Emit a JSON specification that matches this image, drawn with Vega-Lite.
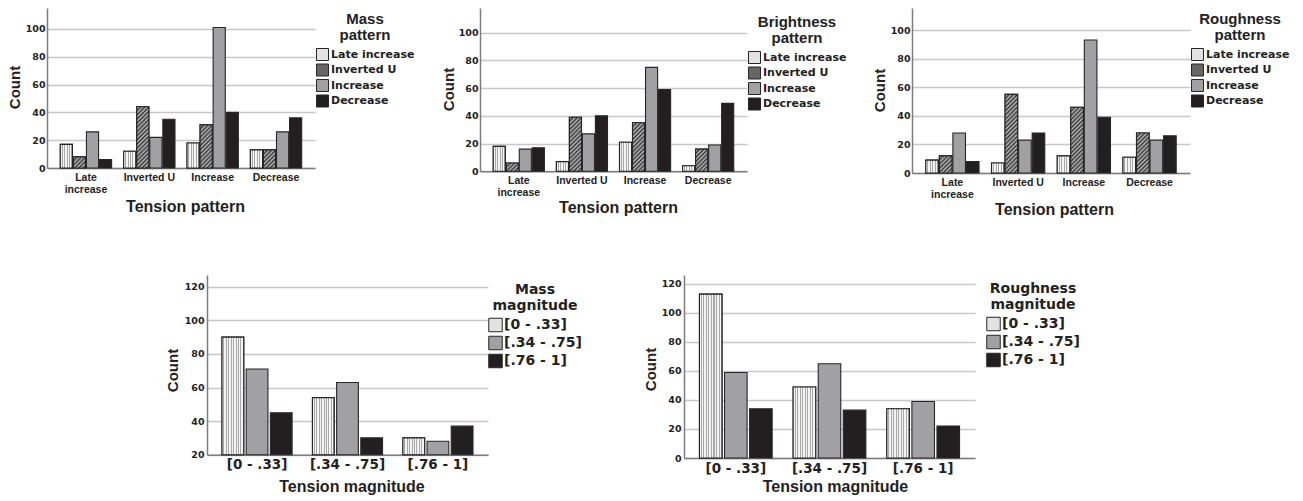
{
  "$schema": "https://vega.github.io/schema/vega-lite/v6.json",
  "background": "white",
  "padding": {"left": 7, "top": 8, "right": 0, "bottom": 0},
  "params": [
    {"name": "hs", "expr": "[{offset:0,color:'#333'},{offset:0.0208,color:'#bbb'},{offset:0.0417,color:'#333'},{offset:0.0625,color:'#bbb'},{offset:0.0833,color:'#333'},{offset:0.1042,color:'#bbb'},{offset:0.125,color:'#333'},{offset:0.1458,color:'#bbb'},{offset:0.1667,color:'#333'},{offset:0.1875,color:'#bbb'},{offset:0.2083,color:'#333'},{offset:0.2292,color:'#bbb'},{offset:0.25,color:'#333'},{offset:0.2708,color:'#bbb'},{offset:0.2917,color:'#333'},{offset:0.3125,color:'#bbb'},{offset:0.3333,color:'#333'},{offset:0.3542,color:'#bbb'},{offset:0.375,color:'#333'},{offset:0.3958,color:'#bbb'},{offset:0.4167,color:'#333'},{offset:0.4375,color:'#bbb'},{offset:0.4583,color:'#333'},{offset:0.4792,color:'#bbb'},{offset:0.5,color:'#333'},{offset:0.5208,color:'#bbb'},{offset:0.5417,color:'#333'},{offset:0.5625,color:'#bbb'},{offset:0.5833,color:'#333'},{offset:0.6042,color:'#bbb'},{offset:0.625,color:'#333'},{offset:0.6458,color:'#bbb'},{offset:0.6667,color:'#333'},{offset:0.6875,color:'#bbb'},{offset:0.7083,color:'#333'},{offset:0.7292,color:'#bbb'},{offset:0.75,color:'#333'},{offset:0.7708,color:'#bbb'},{offset:0.7917,color:'#333'},{offset:0.8125,color:'#bbb'},{offset:0.8333,color:'#333'},{offset:0.8542,color:'#bbb'},{offset:0.875,color:'#333'},{offset:0.8958,color:'#bbb'},{offset:0.9167,color:'#333'},{offset:0.9375,color:'#bbb'},{offset:0.9583,color:'#333'},{offset:0.9792,color:'#bbb'},{offset:1,color:'#333'}]"},
    {"name": "lsl", "expr": "[{offset:0,color:'#f4f4f4'},{offset:0.12,color:'#f4f4f4'},{offset:0.12,color:'#a8a8a8'},{offset:0.2,color:'#a8a8a8'},{offset:0.2,color:'#f4f4f4'},{offset:0.32,color:'#f4f4f4'},{offset:0.32,color:'#a8a8a8'},{offset:0.4,color:'#a8a8a8'},{offset:0.4,color:'#f4f4f4'},{offset:0.52,color:'#f4f4f4'},{offset:0.52,color:'#a8a8a8'},{offset:0.6,color:'#a8a8a8'},{offset:0.6,color:'#f4f4f4'},{offset:0.72,color:'#f4f4f4'},{offset:0.72,color:'#a8a8a8'},{offset:0.8,color:'#a8a8a8'},{offset:0.8,color:'#f4f4f4'},{offset:0.92,color:'#f4f4f4'},{offset:0.92,color:'#a8a8a8'},{offset:1,color:'#a8a8a8'}]"},
    {"name": "ls9", "expr": "[{offset:0,color:'#f4f4f4'},{offset:0.0667,color:'#f4f4f4'},{offset:0.0667,color:'#a8a8a8'},{offset:0.1111,color:'#a8a8a8'},{offset:0.1111,color:'#f4f4f4'},{offset:0.1778,color:'#f4f4f4'},{offset:0.1778,color:'#a8a8a8'},{offset:0.2222,color:'#a8a8a8'},{offset:0.2222,color:'#f4f4f4'},{offset:0.2889,color:'#f4f4f4'},{offset:0.2889,color:'#a8a8a8'},{offset:0.3333,color:'#a8a8a8'},{offset:0.3333,color:'#f4f4f4'},{offset:0.4,color:'#f4f4f4'},{offset:0.4,color:'#a8a8a8'},{offset:0.4444,color:'#a8a8a8'},{offset:0.4444,color:'#f4f4f4'},{offset:0.5111,color:'#f4f4f4'},{offset:0.5111,color:'#a8a8a8'},{offset:0.5556,color:'#a8a8a8'},{offset:0.5556,color:'#f4f4f4'},{offset:0.6222,color:'#f4f4f4'},{offset:0.6222,color:'#a8a8a8'},{offset:0.6667,color:'#a8a8a8'},{offset:0.6667,color:'#f4f4f4'},{offset:0.7333,color:'#f4f4f4'},{offset:0.7333,color:'#a8a8a8'},{offset:0.7778,color:'#a8a8a8'},{offset:0.7778,color:'#f4f4f4'},{offset:0.8444,color:'#f4f4f4'},{offset:0.8444,color:'#a8a8a8'},{offset:0.8889,color:'#a8a8a8'},{offset:0.8889,color:'#f4f4f4'},{offset:0.9556,color:'#f4f4f4'},{offset:0.9556,color:'#a8a8a8'},{offset:1,color:'#a8a8a8'}]"}
  ],
  "config": {
    "view": {"stroke": null},
    "axis": {"labelFont": "DejaVu Sans", "labelFontWeight": "bold", "labelColor": "#222", "titleFont": "Liberation Sans", "titleFontWeight": "bold", "titleColor": "#222", "domainColor": "#7d7d7d", "domainWidth": 1.5, "ticks": false, "gridColor": "#c8c8c8", "gridWidth": 1.5, "labelPadding": 2},
    "axisX": {"grid": false, "labelAngle": 0, "labelFont": "Liberation Sans", "labelFontSize": 10.5, "labelPadding": 4, "labelLineHeight": 12, "titleFontSize": 16, "titleBaseline": "alphabetic"},
    "axisY": {"grid": true, "labelFontSize": 9.5, "titleFontSize": 15, "titleBaseline": "alphabetic", "titleAngle": 270},
    "legend": {"titleFont": "Liberation Sans", "titleFontWeight": "bold", "titleFontSize": 15, "titleColor": "#222", "titleAlign": "center", "titleAnchor": "middle", "titleLineHeight": 16, "titlePadding": 5, "labelFont": "DejaVu Sans", "labelFontWeight": "bold", "labelFontSize": 11, "labelColor": "#222", "labelOffset": 2, "symbolType": "square", "symbolSize": 144, "symbolStrokeColor": "#262626", "symbolStrokeWidth": 1, "rowPadding": -1.5, "padding": 0, "labelLimit": 300}
  },
  "spacing": 267,
  "bounds": "flush",
  "resolve": {"scale": {"color": "independent", "xOffset": "independent", "x": "independent", "y": "independent", "fill": "independent"}, "legend": {"color": "independent"}},
  "vconcat": [
    {
      "spacing": 165,
      "bounds": "flush",
      "resolve": {"scale": {"color": "independent", "xOffset": "independent", "x": "independent", "y": "independent", "fill": "independent"}, "legend": {"color": "independent"}},
      "hconcat": [
        {
          "width": 268, "height": 160,
          "data": {"values": [
            {"tension": "Late increase", "series": "Late increase", "count": 17},
            {"tension": "Late increase", "series": "Inverted U", "count": 8},
            {"tension": "Late increase", "series": "Increase", "count": 26},
            {"tension": "Late increase", "series": "Decrease", "count": 6},
            {"tension": "Inverted U", "series": "Late increase", "count": 12},
            {"tension": "Inverted U", "series": "Inverted U", "count": 44},
            {"tension": "Inverted U", "series": "Increase", "count": 22},
            {"tension": "Inverted U", "series": "Decrease", "count": 35},
            {"tension": "Increase", "series": "Late increase", "count": 18},
            {"tension": "Increase", "series": "Inverted U", "count": 31},
            {"tension": "Increase", "series": "Increase", "count": 101},
            {"tension": "Increase", "series": "Decrease", "count": 40},
            {"tension": "Decrease", "series": "Late increase", "count": 13},
            {"tension": "Decrease", "series": "Inverted U", "count": 13},
            {"tension": "Decrease", "series": "Increase", "count": 26},
            {"tension": "Decrease", "series": "Decrease", "count": 36}
          ]},
          "encoding": {
            "x": {"field": "tension", "type": "nominal", "sort": ["Late increase", "Inverted U", "Increase", "Decrease"], "scale": {"paddingInner": 0.19, "paddingOuter": 0.21}, "axis": {"title": "Tension pattern", "labelExpr": "datum.value === 'Late increase' ? ['Late', 'increase'] : datum.value", "titleX": 138, "titleY": 43}},
            "xOffset": {"field": "series", "type": "nominal", "sort": ["Late increase", "Inverted U", "Increase", "Decrease"], "scale": {"paddingInner": 0.07, "paddingOuter": 0}},
            "y": {"field": "count", "type": "quantitative", "scale": {"domain": [0, 115], "nice": false}, "axis": {"title": "Count", "values": [0, 20, 40, 60, 80, 100], "titleX": -28, "titleY": 79}}
          },
          "layer": [
            {"mark": {"type": "bar", "stroke": "#262626", "strokeWidth": 1.1},
             "encoding": {"color": {"field": "series", "type": "nominal", "scale": {"domain": ["Late increase", "Inverted U", "Increase", "Decrease"], "range": ["#e2e2e2", "#666666", "#a1a1a3", "#231f20"]},
               "legend": {"title": ["Mass", "pattern"], "orient": "none", "legendX": 269, "legendY": 4}}}},
            {"transform": [{"filter": "datum.series === 'Late increase'"}],
             "mark": {"type": "bar", "stroke": "#262626", "strokeWidth": 1.1, "fill": {"expr": "{gradient:'linear',x1:0,y1:0,x2:1,y2:0,stops:lsl}"}}},
            {"transform": [{"filter": "datum.series === 'Inverted U'"}, {"calculate": "{gradient:'linear',x1:0,y1:0,x2:12.2*100/(148.84+pow(datum.count*1.3913,2)),y2:datum.count*1.3913*100/(148.84+pow(datum.count*1.3913,2)),stops:hs}", "as": "grad"}],
             "mark": {"type": "bar", "stroke": "#262626", "strokeWidth": 1.1},
             "encoding": {"fill": {"field": "grad", "type": "nominal", "scale": null}}}
          ]
        },
        {
          "width": 267, "height": 163.3,
          "data": {"values": [
            {"tension": "Late increase", "series": "Late increase", "count": 18},
            {"tension": "Late increase", "series": "Inverted U", "count": 6},
            {"tension": "Late increase", "series": "Increase", "count": 16},
            {"tension": "Late increase", "series": "Decrease", "count": 17},
            {"tension": "Inverted U", "series": "Late increase", "count": 7},
            {"tension": "Inverted U", "series": "Inverted U", "count": 39},
            {"tension": "Inverted U", "series": "Increase", "count": 27},
            {"tension": "Inverted U", "series": "Decrease", "count": 40},
            {"tension": "Increase", "series": "Late increase", "count": 21},
            {"tension": "Increase", "series": "Inverted U", "count": 35},
            {"tension": "Increase", "series": "Increase", "count": 75},
            {"tension": "Increase", "series": "Decrease", "count": 59},
            {"tension": "Decrease", "series": "Late increase", "count": 4},
            {"tension": "Decrease", "series": "Inverted U", "count": 16},
            {"tension": "Decrease", "series": "Increase", "count": 19},
            {"tension": "Decrease", "series": "Decrease", "count": 49}
          ]},
          "encoding": {
            "x": {"field": "tension", "type": "nominal", "sort": ["Late increase", "Inverted U", "Increase", "Decrease"], "scale": {"paddingInner": 0.19, "paddingOuter": 0.21}, "axis": {"title": "Tension pattern", "labelExpr": "datum.value === 'Late increase' ? ['Late', 'increase'] : datum.value", "titleX": 138, "titleY": 41}},
            "xOffset": {"field": "series", "type": "nominal", "sort": ["Late increase", "Inverted U", "Increase", "Decrease"], "scale": {"paddingInner": 0.07, "paddingOuter": 0}},
            "y": {"field": "count", "type": "quantitative", "scale": {"domain": [0, 117.8], "nice": false}, "axis": {"title": "Count", "values": [0, 20, 40, 60, 80, 100], "titleX": -26.5, "titleY": 81}}
          },
          "layer": [
            {"mark": {"type": "bar", "stroke": "#262626", "strokeWidth": 1.1},
             "encoding": {"color": {"field": "series", "type": "nominal", "scale": {"domain": ["Late increase", "Inverted U", "Increase", "Decrease"], "range": ["#e2e2e2", "#666666", "#a1a1a3", "#231f20"]},
               "legend": {"title": ["Brightness", "pattern"], "orient": "none", "legendX": 268, "legendY": 7}}}},
            {"transform": [{"filter": "datum.series === 'Late increase'"}],
             "mark": {"type": "bar", "stroke": "#262626", "strokeWidth": 1.1, "fill": {"expr": "{gradient:'linear',x1:0,y1:0,x2:1,y2:0,stops:lsl}"}}},
            {"transform": [{"filter": "datum.series === 'Inverted U'"}, {"calculate": "{gradient:'linear',x1:0,y1:0,x2:12.1*100/(146.41+pow(datum.count*1.3862,2)),y2:datum.count*1.3862*100/(146.41+pow(datum.count*1.3862,2)),stops:hs}", "as": "grad"}],
             "mark": {"type": "bar", "stroke": "#262626", "strokeWidth": 1.1},
             "encoding": {"fill": {"field": "grad", "type": "nominal", "scale": null}}}
          ]
        },
        {
          "width": 278, "height": 165,
          "data": {"values": [
            {"tension": "Late increase", "series": "Late increase", "count": 9},
            {"tension": "Late increase", "series": "Inverted U", "count": 12},
            {"tension": "Late increase", "series": "Increase", "count": 28},
            {"tension": "Late increase", "series": "Decrease", "count": 8},
            {"tension": "Inverted U", "series": "Late increase", "count": 7},
            {"tension": "Inverted U", "series": "Inverted U", "count": 55},
            {"tension": "Inverted U", "series": "Increase", "count": 23},
            {"tension": "Inverted U", "series": "Decrease", "count": 28},
            {"tension": "Increase", "series": "Late increase", "count": 12},
            {"tension": "Increase", "series": "Inverted U", "count": 46},
            {"tension": "Increase", "series": "Increase", "count": 93},
            {"tension": "Increase", "series": "Decrease", "count": 39},
            {"tension": "Decrease", "series": "Late increase", "count": 11},
            {"tension": "Decrease", "series": "Inverted U", "count": 28},
            {"tension": "Decrease", "series": "Increase", "count": 23},
            {"tension": "Decrease", "series": "Decrease", "count": 26}
          ]},
          "encoding": {
            "x": {"field": "tension", "type": "nominal", "sort": ["Late increase", "Inverted U", "Increase", "Decrease"], "scale": {"paddingInner": 0.19, "paddingOuter": 0.21}, "axis": {"title": "Tension pattern", "labelExpr": "datum.value === 'Late increase' ? ['Late', 'increase'] : datum.value", "titleX": 142, "titleY": 41}},
            "xOffset": {"field": "series", "type": "nominal", "sort": ["Late increase", "Inverted U", "Increase", "Decrease"], "scale": {"paddingInner": 0.07, "paddingOuter": 0}},
            "y": {"field": "count", "type": "quantitative", "scale": {"domain": [0, 115.4], "nice": false}, "axis": {"title": "Count", "values": [0, 20, 40, 60, 80, 100], "titleX": -28, "titleY": 82}}
          },
          "layer": [
            {"mark": {"type": "bar", "stroke": "#262626", "strokeWidth": 1.1},
             "encoding": {"color": {"field": "series", "type": "nominal", "scale": {"domain": ["Late increase", "Inverted U", "Increase", "Decrease"], "range": ["#e2e2e2", "#666666", "#a1a1a3", "#231f20"]},
               "legend": {"title": ["Roughness", "pattern"], "orient": "none", "legendX": 279, "legendY": 4}}}},
            {"transform": [{"filter": "datum.series === 'Late increase'"}],
             "mark": {"type": "bar", "stroke": "#262626", "strokeWidth": 1.1, "fill": {"expr": "{gradient:'linear',x1:0,y1:0,x2:1,y2:0,stops:lsl}"}}},
            {"transform": [{"filter": "datum.series === 'Inverted U'"}, {"calculate": "{gradient:'linear',x1:0,y1:0,x2:12.6*100/(158.76+pow(datum.count*1.4298,2)),y2:datum.count*1.4298*100/(158.76+pow(datum.count*1.4298,2)),stops:hs}", "as": "grad"}],
             "mark": {"type": "bar", "stroke": "#262626", "strokeWidth": 1.1},
             "encoding": {"fill": {"field": "grad", "type": "nominal", "scale": null}}}
          ]
        }
      ]
    },
    {
      "spacing": 159,
      "bounds": "flush",
      "resolve": {"scale": {"color": "independent", "xOffset": "independent", "x": "independent", "y": "independent", "fill": "independent"}, "legend": {"color": "independent"}},
      "hconcat": [
        {"width": 1, "height": 1, "data": {"values": []}, "mark": "point"},
        {
          "spacing": 196,
          "bounds": "flush",
          "resolve": {"scale": {"color": "independent", "xOffset": "independent", "x": "independent", "y": "independent", "fill": "independent"}, "legend": {"color": "independent"}},
          "hconcat": [
            {
              "width": 281, "height": 179.7,
              "data": {"values": [
                {"tension": "[0 - .33]", "series": "[0 - .33]", "count": 90},
                {"tension": "[0 - .33]", "series": "[.34 - .75]", "count": 71},
                {"tension": "[0 - .33]", "series": "[.76 - 1]", "count": 45},
                {"tension": "[.34 - .75]", "series": "[0 - .33]", "count": 54},
                {"tension": "[.34 - .75]", "series": "[.34 - .75]", "count": 63},
                {"tension": "[.34 - .75]", "series": "[.76 - 1]", "count": 30},
                {"tension": "[.76 - 1]", "series": "[0 - .33]", "count": 30},
                {"tension": "[.76 - 1]", "series": "[.34 - .75]", "count": 28},
                {"tension": "[.76 - 1]", "series": "[.76 - 1]", "count": 37}
              ]},
              "encoding": {
                "x": {"field": "tension", "type": "nominal", "sort": ["[0 - .33]", "[.34 - .75]", "[.76 - 1]"], "scale": {"paddingInner": 0.225, "paddingOuter": 0.166}, "axis": {"title": "Tension magnitude", "labelFont": "DejaVu Sans", "labelFontSize": 13.5, "labelPadding": 3, "titleX": 144.5, "titleY": 37}},
                "xOffset": {"field": "series", "type": "nominal", "sort": ["[0 - .33]", "[.34 - .75]", "[.76 - 1]"], "scale": {"paddingInner": 0.1, "paddingOuter": 0}},
                "y": {"field": "count", "type": "quantitative", "scale": {"domain": [20, 127], "nice": false, "zero": false}, "axis": {"title": "Count", "values": [20, 40, 60, 80, 100, 120], "labelPadding": 3, "titleX": -30, "titleY": 95}},
                "y2": {"datum": 20}
              },
              "layer": [
                {"mark": {"type": "bar", "stroke": "#262626", "strokeWidth": 1.1},
                 "encoding": {"color": {"field": "series", "type": "nominal", "scale": {"domain": ["[0 - .33]", "[.34 - .75]", "[.76 - 1]"], "range": ["#e2e2e2", "#a1a1a3", "#231f20"]},
                   "legend": {"title": ["Mass", "magnitude"], "orient": "none", "legendX": 281, "legendY": 8, "titleFont": "DejaVu Sans", "titleFontSize": 14, "titleLineHeight": 15.5, "titlePadding": 5, "labelFontSize": 14, "labelOffset": 1, "symbolSize": 182, "rowPadding": -1}}}},
                {"transform": [{"filter": "datum.series === '[0 - .33]'"}],
                 "mark": {"type": "bar", "stroke": "#262626", "strokeWidth": 1.1, "fill": {"expr": "{gradient:'linear',x1:0,y1:0,x2:1,y2:0,stops:ls9}"}}}
              ]
            },
            {
              "width": 291, "height": 183,
              "data": {"values": [
                {"tension": "[0 - .33]", "series": "[0 - .33]", "count": 113},
                {"tension": "[0 - .33]", "series": "[.34 - .75]", "count": 59},
                {"tension": "[0 - .33]", "series": "[.76 - 1]", "count": 34},
                {"tension": "[.34 - .75]", "series": "[0 - .33]", "count": 49},
                {"tension": "[.34 - .75]", "series": "[.34 - .75]", "count": 65},
                {"tension": "[.34 - .75]", "series": "[.76 - 1]", "count": 33},
                {"tension": "[.76 - 1]", "series": "[0 - .33]", "count": 34},
                {"tension": "[.76 - 1]", "series": "[.34 - .75]", "count": 39},
                {"tension": "[.76 - 1]", "series": "[.76 - 1]", "count": 22}
              ]},
              "encoding": {
                "x": {"field": "tension", "type": "nominal", "sort": ["[0 - .33]", "[.34 - .75]", "[.76 - 1]"], "scale": {"paddingInner": 0.224, "paddingOuter": 0.165}, "axis": {"title": "Tension magnitude", "labelFont": "DejaVu Sans", "labelFontSize": 13.5, "labelPadding": 3, "titleX": 151, "titleY": 33.5}},
                "xOffset": {"field": "series", "type": "nominal", "sort": ["[0 - .33]", "[.34 - .75]", "[.76 - 1]"], "scale": {"paddingInner": 0.1, "paddingOuter": 0}},
                "y": {"field": "count", "type": "quantitative", "scale": {"domain": [0, 126.2], "nice": false}, "axis": {"title": "Count", "values": [0, 20, 40, 60, 80, 100, 120], "labelPadding": 3, "titleX": -29, "titleY": 94}}
              },
              "layer": [
                {"mark": {"type": "bar", "stroke": "#262626", "strokeWidth": 1.1},
                 "encoding": {"color": {"field": "series", "type": "nominal", "scale": {"domain": ["[0 - .33]", "[.34 - .75]", "[.76 - 1]"], "range": ["#e2e2e2", "#a1a1a3", "#231f20"]},
                   "legend": {"title": ["Roughness", "magnitude"], "orient": "none", "legendX": 302, "legendY": 7, "titleFont": "DejaVu Sans", "titleFontSize": 14, "titleLineHeight": 15.5, "titlePadding": 5, "labelFontSize": 14, "labelOffset": 1, "symbolSize": 182, "rowPadding": -1}}}},
                {"transform": [{"filter": "datum.series === '[0 - .33]'"}],
                 "mark": {"type": "bar", "stroke": "#262626", "strokeWidth": 1.1, "fill": {"expr": "{gradient:'linear',x1:0,y1:0,x2:1,y2:0,stops:ls9}"}}}
              ]
            }
          ]
        }
      ]
    }
  ]
}
